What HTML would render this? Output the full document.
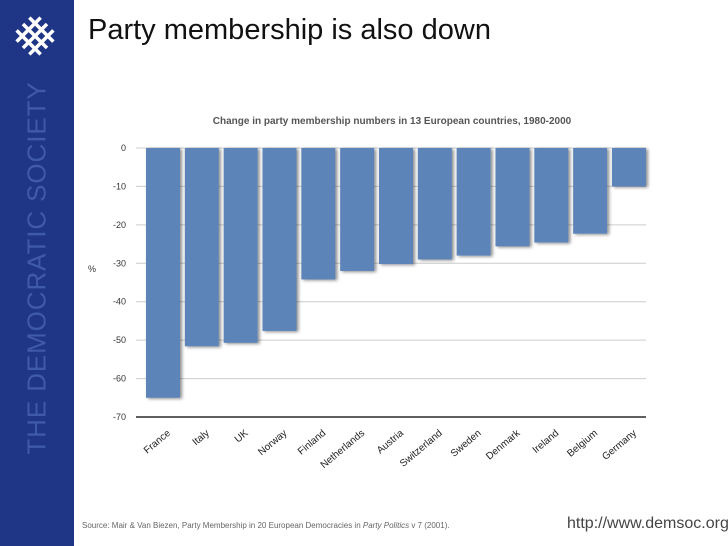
<!DOCTYPE html>
<html><head><meta charset="utf-8"><style>
body{margin:0;width:728px;height:546px;overflow:hidden;background:#fff;font-family:"Liberation Sans",sans-serif;position:relative}
#side{position:absolute;left:0;top:0;width:74px;height:546px;background:#1f3585}
#vt{position:absolute;left:37px;top:268px;transform:translate(-50%,-50%) rotate(-90deg);white-space:nowrap;color:#3f5aa6;font-size:26px;letter-spacing:0.9px}
#title{position:absolute;left:88px;top:14px;font-size:29px;color:#111}
#src{position:absolute;left:82px;top:521px;font-size:8px;color:#666}
#url{position:absolute;left:567px;top:515px;font-size:16px;color:#444}
</style></head><body>
<div id="side">
<svg width="74" height="80"><g stroke="#fff" stroke-width="3.5" fill="none" transform="rotate(45 35 36)">
<path d="M18 27 H52 M18 36 H52 M18 45 H52 M26 19 V53 M35 19 V53 M44 19 V53"/></g></svg>
<div id="vt">THE DEMOCRATIC SOCIETY</div>
</div>
<div id="title">Party membership is also down</div>
<svg id="chart" width="728" height="546" style="position:absolute;left:0;top:0">
<defs><filter id="sh" x="-20%" y="-5%" width="150%" height="120%"><feDropShadow dx="2" dy="1" stdDeviation="1.5" flood-color="#000" flood-opacity="0.45"/></filter></defs>
<text x="392" y="124" text-anchor="middle" font-size="10" font-weight="bold" fill="#555">Change in party membership numbers in 13 European countries, 1980-2000</text>
<text x="88" y="272" font-size="9" fill="#333">%</text>
<g id="grid"></g><g id="bars"></g><g id="labels"></g>
</svg>
<div id="src">Source: Mair &amp; Van Biezen, Party Membership in 20 European Democracies in <i>Party Politics</i> v 7 (2001).</div>
<div id="url">http://www.demsoc.org</div>
<script>
const categories=["France","Italy","UK","Norway","Finland","Netherlands","Austria","Switzerland","Sweden","Denmark","Ireland","Belgium","Germany"];
const values=[-65,-51.6,-50.7,-47.6,-34.2,-32,-30.2,-29,-28,-25.6,-24.6,-22.3,-10];
const ticks=[0,-10,-20,-30,-40,-50,-60,-70];
const NS="http://www.w3.org/2000/svg";
const y=v=>148+(-v)*(269/70);
const x0=136,x1=646,bw=34,first=163,pitch=38.83;
const xc=i=>first+pitch*i;
function mk(t,a,p){const e=document.createElementNS(NS,t);for(const k in a)e.setAttribute(k,a[k]);p.appendChild(e);return e;}
const g=document.getElementById('grid');
ticks.forEach(t=>{
 const l=mk('line',{x1:x0,x2:x1,y1:y(t),y2:y(t),stroke:t===-70?'#000':'#ccc','stroke-width':t===-70?1.3:1},g);
 
 
 const tx=mk('text',{x:126,y:y(t)+3,'text-anchor':'end','font-size':9,fill:'#333'},g);
 tx.textContent=t;
 
 
});
const b=document.getElementById('bars'),lb=document.getElementById('labels');
values.forEach((v,i)=>{
 const r=mk('rect',{x:xc(i)-bw/2,y:y(0),width:bw,height:y(v)-y(0),fill:'#5b84b8',filter:'url(#sh)'},b);
 
 
 const t=mk('text',{x:0,y:0,'text-anchor':'end','font-size':10,fill:'#222',transform:`translate(${xc(i)+8},${y(-70)+17}) rotate(-40)`},lb);
 t.textContent=categories[i];
 
 
});
</script>
</body></html>
